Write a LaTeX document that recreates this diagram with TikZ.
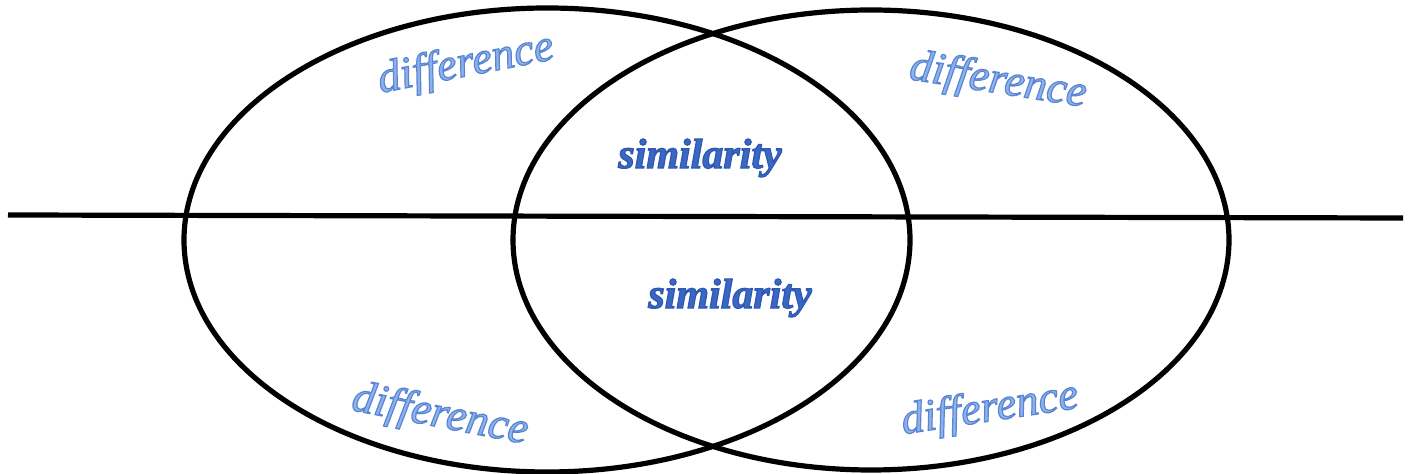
\documentclass[tikz,border=0pt]{standalone}
\usepackage{fontspec}
\setmainfont{Liberation Serif}[ItalicFont=Liberation Serif Italic, BoldFont=Liberation Serif Bold, BoldItalicFont=Liberation Serif Bold Italic, Ligatures=NoCommon]
\definecolor{difffill}{HTML}{8DB2EE}
\definecolor{simfill}{HTML}{3A66C4}
\newcommand\outlined[2]{\special{pdf:literal direct 2 Tr 0.6 w #1 RG}#2\special{pdf:literal direct 0 Tr}}
\tikzset{
  venn/.style={line width=2.6pt, draw=black},
  difftext/.style={font=\fontsize{22.5}{24}\selectfont\itshape, text=difffill, inner sep=0pt},
  simtext/.style={font=\fontsize{21}{24}\selectfont\bfseries\itshape, text=simfill, inner sep=0pt}
}
\begin{document}
\begin{tikzpicture}[x=0.5pt,y=-0.5pt]
\useasboundingbox (0,0) rectangle (1410,474);
\coordinate (lineL) at (8,215);
\coordinate (lineR) at (1403,218);
\draw[venn] (lineL) -- (lineR);
\draw[venn] (547,240) ellipse [x radius=181.5pt, y radius=116pt];
\draw[venn] (871,240) ellipse [x radius=179pt, y radius=115pt];
\node[difftext, rotate=11] (dTL) at (466,65) {\outlined{0.35 0.52 0.82}{difference}};
\node[difftext, rotate=-9] (dTR) at (998,82) {\outlined{0.35 0.52 0.82}{difference}};
\node[difftext, rotate=-11] (dBL) at (440,416) {\outlined{0.35 0.52 0.82}{difference}};
\node[difftext, rotate=8.5] (dBR) at (990,410) {\outlined{0.35 0.52 0.82}{difference}};
\node[simtext] (sU) at (700,158) {\outlined{0.18 0.35 0.7}{similarity}};
\node[simtext] (sL) at (730,298) {\outlined{0.18 0.35 0.7}{similarity}};
\end{tikzpicture}
\end{document}
